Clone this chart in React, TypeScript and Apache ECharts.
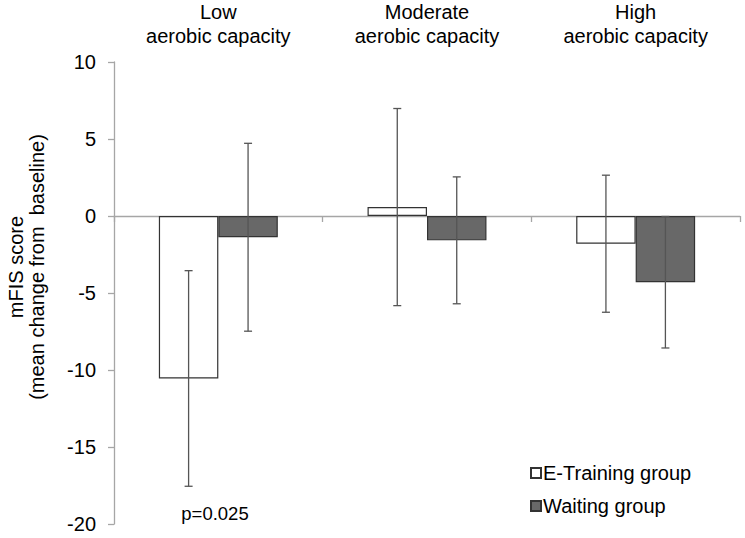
import React, { useEffect, useRef } from "react";
import * as echarts from "echarts";

const categories = ["Low\naerobic capacity", "Moderate\naerobic capacity", "High\naerobic capacity"];
const trainingMeans = [-10.55, 0.58, -1.8];
const trainingErr = [7.0, 6.4, 4.45];
const waitingMeans = [-1.38, -1.58, -4.3];
const waitingErr = [6.1, 4.12, 4.27];
const yTicks = { min: -20, max: 10, interval: 5 };
const seriesNames = ["E-Training group", "Waiting group"];
const pValueLabel = "p=0.025";
const yAxisTitle = "mFIS score\n(mean change from  baseline)";

const FONT = "'Liberation Sans', Arial, sans-serif";
const CAT_GAP = 0.43;

function errorSeries(means: number[], errs: number[], side: number) {
  return {
    type: "custom",
    xAxisIndex: 0,
    yAxisIndex: 0,
    silent: true,
    z: 5,
    data: means.map((m, i) => [i, m - errs[i], m + errs[i]]),
    encode: { x: 0, y: [1, 2] },
    renderItem: (params: any, api: any) => {
      const idx = api.value(0);
      const lo = api.coord([idx, api.value(1)]);
      const hi = api.coord([idx, api.value(2)]);
      const band = api.size([1, 0])[0];
      const bw = (band * (1 - CAT_GAP)) / 2;
      const x = lo[0] + (side * bw) / 2;
      const cap = 4;
      const style = { stroke: "#555555", lineWidth: 1.3 };
      return {
        type: "group",
        children: [
          { type: "line", shape: { x1: x, y1: lo[1], x2: x, y2: hi[1] }, style },
          { type: "line", shape: { x1: x - cap, y1: lo[1], x2: x + cap, y2: lo[1] }, style },
          { type: "line", shape: { x1: x - cap, y1: hi[1], x2: x + cap, y2: hi[1] }, style },
        ],
      };
    },
  };
}

export default function App() {
  const ref = useRef<HTMLDivElement>(null);
  useEffect(() => {
    if (!ref.current) return;
    const chart = echarts.init(ref.current, undefined, { renderer: "svg" });
    chart.setOption({
      animation: false,
      backgroundColor: "#ffffff",
      textStyle: { fontFamily: FONT },
      grid: { left: 114, right: 5, top: 60, bottom: 14, containLabel: false },
      legend: {
        orient: "vertical",
        left: 530,
        top: 463,
        padding: 0,
        itemWidth: 10,
        itemHeight: 10,
        itemGap: 13,
        icon: "rect",
        textStyle: { fontSize: 20, color: "#000", fontFamily: FONT, padding: [0, 0, 0, -3] },
        data: seriesNames,
      },
      xAxis: [
        {
          type: "category",
          data: categories,
          position: "bottom",
          axisLine: { onZero: true, lineStyle: { color: "#a6a6a6", width: 1.3 } },
          axisTick: { show: true, length: 6, lineStyle: { color: "#a6a6a6", width: 1.3 } },
          axisLabel: { show: false },
          splitLine: { show: false },
        },
        {
          type: "category",
          data: categories,
          position: "top",
          axisLine: { show: false },
          axisTick: { show: false },
          axisLabel: {
            show: true,
            fontSize: 20,
            lineHeight: 24,
            color: "#000",
            fontFamily: FONT,
            margin: 14,
          },
        },
      ],
      yAxis: {
        type: "value",
        min: yTicks.min,
        max: yTicks.max,
        interval: yTicks.interval,
        axisLine: { show: true, lineStyle: { color: "#a6a6a6", width: 1.3 } },
        axisTick: { show: true, length: 6, lineStyle: { color: "#a6a6a6", width: 1.3 } },
        splitLine: { show: false },
        axisLabel: { fontSize: 20, color: "#000", fontFamily: FONT, margin: 18 },
      },
      series: [
        {
          name: seriesNames[0],
          type: "bar",
          data: trainingMeans,
          barGap: "0%",
          barCategoryGap: "43%",
          itemStyle: { color: "#ffffff", borderColor: "#333333", borderWidth: 1.2 },
        },
        {
          name: seriesNames[1],
          type: "bar",
          data: waitingMeans,
          barGap: "0%",
          barCategoryGap: "43%",
          itemStyle: { color: "#686868", borderColor: "#333333", borderWidth: 1.2 },
        },
        errorSeries(trainingMeans, trainingErr, -1),
        errorSeries(waitingMeans, waitingErr, 1),
      ],
      graphic: [
        {
          type: "text",
          x: 26,
          y: 267,
          rotation: Math.PI / 2,
          style: {
            text: yAxisTitle,
            fontSize: 20,
            lineHeight: 21,
            fontFamily: FONT,
            fill: "#000",
            textAlign: "center",
            textVerticalAlign: "middle",
          },
        },
        {
          type: "text",
          x: 215,
          y: 513,
          style: {
            text: pValueLabel,
            fontSize: 18.5,
            fontFamily: FONT,
            fill: "#000",
            textAlign: "center",
            textVerticalAlign: "middle",
          },
        },
      ],
    });
    return () => chart.dispose();
  }, []);
  return <div ref={ref} style={{ width: 745, height: 538, position: "absolute", left: 0, top: 0 }} />;
}
